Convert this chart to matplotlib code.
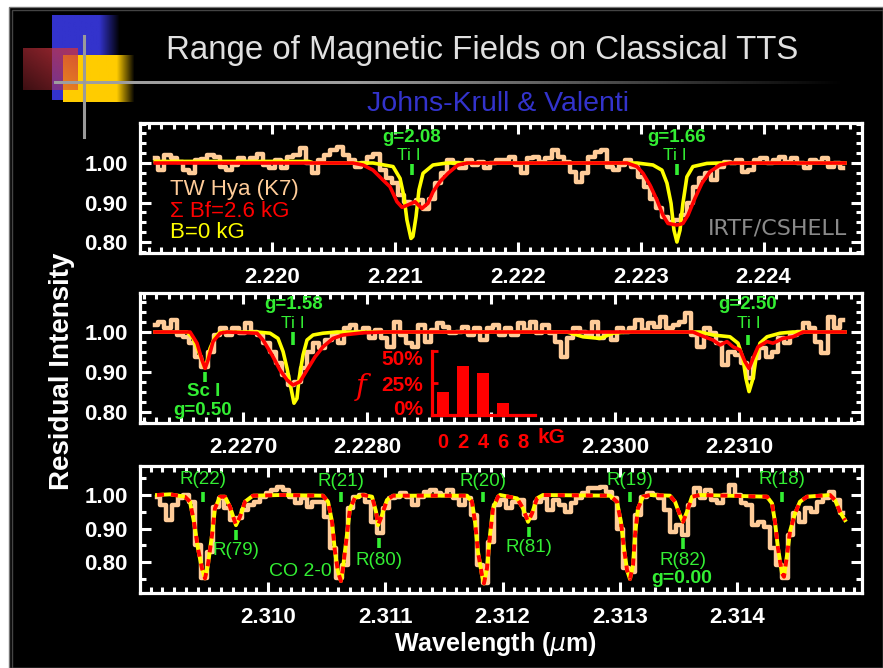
import matplotlib
matplotlib.use('Agg')
import matplotlib.pyplot as plt
import numpy as np
from matplotlib.ticker import MultipleLocator, FixedLocator, FixedFormatter
from matplotlib.patches import Rectangle

plt.rcParams['font.family'] = ['Liberation Sans', 'DejaVu Sans']

# ---------------- data ----------------
# panel 1: Ti I 2.2211 / 2.2233 um
p1_start, p1_step = 2.21905, 0.00005
p1_obs = [1.012, 0.982, 1.020, 1.012, 1.003, 0.982, 0.974, 1.008, 1.009, 1.020,
          1.016, 0.990, 0.982, 0.995, 1.012, 1.003, 1.012, 1.024, 0.995, 0.987,
          1.008, 0.987, 1.014, 1.020, 1.037, 0.999, 0.974, 1.008, 1.020, 1.033,
          1.041, 1.020, 1.008, 0.990, 0.999, 1.016, 1.024, 0.982, 0.961, 0.949,
          0.919, 0.902, 0.898, 0.906, 0.883, 0.910, 0.949, 0.974, 1.008, 0.999,
          0.987, 1.008, 0.995, 1.003, 0.987, 0.999, 1.008, 1.008, 1.016, 0.995,
          0.974, 1.012, 1.016, 1.003, 1.012, 1.033, 1.016, 1.003, 0.978, 0.953,
          0.974, 1.016, 1.029, 1.033, 0.990, 0.982, 0.995, 1.008, 0.990, 0.965,
          0.940, 0.910, 0.885, 0.864, 0.851, 0.855, 0.868, 0.898, 0.940, 0.961,
          0.974, 0.957, 0.990, 1.003, 0.999, 1.008, 0.978, 0.982, 1.008, 1.012,
          0.999, 1.008, 1.016, 1.003, 1.012, 0.999, 0.987, 1.008, 1.003, 1.012,
          0.990, 0.999, 0.987]
p1_red_w = [2.21905, 2.220659, 2.220740, 2.220822, 2.220903, 2.220960, 2.221017,
            2.221058, 2.221107, 2.221164, 2.221220, 2.221269, 2.221310, 2.221367,
            2.221432, 2.221513, 2.221587, 2.222889, 2.222970, 2.223019, 2.223076,
            2.223133, 2.223181, 2.223222, 2.223295, 2.223344, 2.223385, 2.223442,
            2.223499, 2.223564, 2.223645, 2.223727, 2.224662]
p1_red_f = [1.0, 1.0, 0.995, 0.982, 0.957, 0.940, 0.902, 0.888, 0.894, 0.902,
            0.885, 0.898, 0.927, 0.953, 0.974, 0.995, 1.0, 1.0, 0.991, 0.974,
            0.944, 0.906, 0.868, 0.847, 0.843, 0.847, 0.868, 0.911, 0.949, 0.978,
            0.995, 1.0, 1.0]
p1_yel_w = [2.21905, 2.22030, 2.22034, 2.220822, 2.220985, 2.221042, 2.221074,
            2.221098, 2.221131, 2.221147, 2.221172, 2.221196, 2.221229, 2.221310,
            2.221424, 2.222970, 2.223100, 2.223173, 2.223214, 2.223247, 2.223271,
            2.223295, 2.223320, 2.223344, 2.223376, 2.223425, 2.223539, 2.223645,
            2.224662]
p1_yel_f = [1.004, 1.004, 1.0, 1.0, 0.991, 0.961, 0.915, 0.856, 0.809, 0.814,
            0.864, 0.932, 0.974, 0.995, 1.0, 1.0, 0.995, 0.982, 0.949, 0.898,
            0.830, 0.800, 0.830, 0.898, 0.965, 0.991, 0.999, 1.0, 1.0]
p1_xticks = [2.220, 2.221, 2.222, 2.223, 2.224]
p1_lines = [('g=2.08', 'Ti I', 2.221137), ('g=1.66', 'Ti I', 2.223295)]

# panel 2: Sc I, Ti I lines + filling factor distribution
p2_start, p2_step = 2.22629, 0.00005
p2_obs = [1.0175, 1.026, 1.009, 1.030, 0.9925, 0.988, 0.972, 0.938, 0.913, 0.951,
          0.9925, 1.009, 0.9925, 1.009, 0.997, 1.022, 1.001, 0.9925, 0.972, 0.951,
          0.922, 0.8925, 0.8675, 0.876, 0.909, 0.951, 0.972, 0.959, 0.980, 0.9925,
          0.972, 1.009, 1.0175, 1.001, 1.009, 0.984, 1.005, 0.984, 0.963, 1.026,
          0.9925, 0.972, 0.963, 1.0175, 0.976, 1.005, 1.022, 1.013, 0.997, 1.001,
          1.013, 0.9925, 1.009, 0.980, 1.009, 1.0175, 0.9925, 1.009, 0.9925, 1.022,
          1.005, 1.026, 0.997, 1.0175, 0.997, 0.976, 0.938, 0.984, 1.009, 1.001,
          0.9925, 1.026, 0.984, 0.997, 0.980, 1.009, 1.001, 1.009, 1.030, 1.005,
          1.022, 1.013, 1.038, 1.009, 1.0175, 1.026, 1.047, 0.9925, 0.963, 1.009,
          0.997, 0.972, 0.9175, 0.951, 0.9425, 0.922, 0.884, 0.934, 0.959, 0.938,
          0.951, 0.984, 0.972, 0.9925, 1.001, 1.022, 1.009, 0.976, 0.9465, 1.038,
          1.009, 1.030]
p2_red_w = [2.226290, 2.226573, 2.226629, 2.226669, 2.226694, 2.226718, 2.226758,
            2.226815, 2.226871, 2.227113, 2.227161, 2.227234, 2.227298, 2.227355,
            2.227403, 2.227460, 2.227516, 2.227581, 2.227645, 2.227726, 2.227806,
            2.227968, 2.228129, 2.230629, 2.230685, 2.230790, 2.230847, 2.230903,
            2.230952, 2.231008, 2.231048, 2.231081, 2.231113, 2.231153, 2.231226,
            2.231274, 2.231355, 2.231435, 2.231516, 2.231855]
p2_red_f = [1.0, 1.0, 0.972, 0.930, 0.909, 0.930, 0.976, 0.997, 1.0, 0.997,
            0.980, 0.9425, 0.905, 0.880, 0.8675, 0.876, 0.905, 0.938, 0.963, 0.984,
            0.9925, 0.998, 1.0, 1.0, 0.9925, 0.980, 0.9675, 0.976, 0.963, 0.955,
            0.926, 0.909, 0.934, 0.963, 0.976, 0.972, 0.984, 0.988, 1.0, 1.0]
p2_yel_w = [2.226290, 2.226548, 2.226597, 2.226637, 2.226669, 2.226685, 2.226710,
            2.226734, 2.226774, 2.226815, 2.227113, 2.227218, 2.227282, 2.227323,
            2.227355, 2.227387, 2.227411, 2.227435, 2.227452, 2.227484, 2.227516,
            2.227565, 2.227645, 2.227758, 2.229613, 2.229742, 2.229879, 2.229984,
            2.230097, 2.230685, 2.230790, 2.230927, 2.230992, 2.231032, 2.231056,
            2.231081, 2.231113, 2.231137, 2.231169, 2.231226, 2.231331, 2.231435,
            2.231855]
p2_yel_f = [1.0, 1.0, 0.984, 0.955, 0.930, 0.913, 0.926, 0.959, 0.988, 1.0,
            1.0, 0.997, 0.984, 0.951, 0.909, 0.859, 0.822, 0.834, 0.884, 0.9425,
            0.980, 0.9925, 0.997, 1.0, 1.0, 0.988, 0.984, 0.997, 1.0, 1.0,
            0.9925, 0.988, 0.972, 0.934, 0.884, 0.851, 0.884, 0.934, 0.972, 0.988,
            0.997, 1.0, 1.0]
p2_xticks = [2.227, 2.228, 2.229, 2.230, 2.231]
p2_xlabels = ['2.2270', '2.2280', '', '2.2300', '2.2310']
field_kg = [0, 2, 4, 6, 8]
field_frac = [0.18, 0.38, 0.33, 0.09, 0.0]

# panel 3: CO 2-0 R branch (both models identical)
p3_start, p3_step = 2.309054, 0.00005
p3_obs = [0.995, 0.970, 0.925, 0.970, 0.990, 1.0, 0.980, 0.851, 0.751, 0.831,
          0.965, 0.990, 0.960, 0.925, 0.930, 0.955, 0.970, 0.980, 0.995, 1.005,
          1.015, 1.025, 1.015, 0.995, 0.975, 0.990, 0.965, 0.980, 0.980, 0.935,
          0.841, 0.751, 0.791, 0.960, 0.995, 1.0, 0.980, 0.920, 0.886, 0.960,
          0.990, 0.995, 1.005, 0.995, 0.970, 0.995, 1.010, 1.015, 1.005, 1.0,
          1.015, 0.990, 0.970, 0.990, 0.940, 0.791, 0.736, 0.861, 0.970, 0.985,
          0.960, 0.980, 0.985, 0.940, 0.930, 0.980, 0.990, 0.955, 0.985, 0.970,
          0.950, 0.975, 0.990, 1.005, 1.020, 1.020, 1.025, 1.010, 0.990, 0.900,
          0.781, 0.771, 0.940, 0.995, 1.005, 1.0, 0.990, 0.955, 0.890, 0.910,
          0.880, 0.970, 1.020, 0.990, 1.015, 0.985, 0.975, 1.0, 1.030, 1.0,
          0.975, 0.970, 0.910, 0.920, 0.905, 0.841, 0.791, 0.751, 0.881, 0.945,
          0.920, 0.960, 0.950, 0.980, 0.990, 1.010, 0.985, 0.945]
p3_mod_w = [2.309054, 2.309165, 2.309292, 2.309335, 2.309369, 2.309403, 2.309437,
            2.309463, 2.309488, 2.309523, 2.309548, 2.309591, 2.309633, 2.309676,
            2.309727, 2.309761, 2.309804, 2.309872, 2.310102,
            2.310469, 2.310512, 2.310546, 2.310571, 2.310597, 2.310622, 2.310639,
            2.310673, 2.310699, 2.310742, 2.310810, 2.310887, 2.310921, 2.310938,
            2.310972, 2.311014, 2.311066,
            2.311697, 2.311739, 2.311765, 2.311790, 2.311824, 2.311841, 2.311867,
            2.311893, 2.311918, 2.311961, 2.311978, 2.312123, 2.312174, 2.312217,
            2.312251, 2.312293, 2.312344,
            2.312916, 2.312975, 2.313009, 2.313035, 2.313061, 2.313086, 2.313112,
            2.313129, 2.313154, 2.313197, 2.313257, 2.313427, 2.313470, 2.313512,
            2.313538, 2.313572, 2.313615, 2.313683,
            2.314254, 2.314297, 2.314322, 2.314348, 2.314382, 2.314399, 2.314425,
            2.314450, 2.314493, 2.314535, 2.314595, 2.314791, 2.314834, 2.314876,
            2.314919]
p3_mod_f = [1.0, 1.002, 0.995, 0.980, 0.920, 0.841, 0.781, 0.751, 0.791, 0.881,
            0.960, 0.995, 0.995, 0.965, 0.910, 0.935, 0.980, 0.998, 1.0,
            0.998, 0.980, 0.920, 0.831, 0.771, 0.743, 0.781, 0.881, 0.960, 0.992,
            1.0, 0.995, 0.950, 0.910, 0.940, 0.985, 0.998,
            0.998, 0.980, 0.920, 0.831, 0.761, 0.736, 0.781, 0.881, 0.960, 0.995,
            1.0, 0.990, 0.960, 0.920, 0.945, 0.990, 1.0,
            0.998, 0.980, 0.920, 0.841, 0.776, 0.749, 0.791, 0.881, 0.960, 0.995,
            1.0, 0.998, 0.980, 0.940, 0.920, 0.950, 0.995, 1.0,
            0.995, 0.975, 0.920, 0.841, 0.766, 0.756, 0.821, 0.891, 0.945, 0.980,
            0.995, 1.0, 0.985, 0.950, 0.925]
p3_xticks = [2.310, 2.311, 2.312, 2.313, 2.314]
# CO line ids: label, wavelength, label level, marker top, marker bottom
p3_lines = [('R(22)', 2.309446, 1.045, 1.009, 0.979),
            ('R(79)', 2.309727, 0.833, 0.896, 0.866),
            ('R(21)', 2.310622, 1.040, 1.009, 0.979),
            ('R(80)', 2.310946, 0.806, 0.872, 0.842),
            ('R(20)', 2.311833, 1.040, 1.009, 0.979),
            ('R(81)', 2.312225, 0.842, 0.904, 0.875),
            ('R(19)', 2.313086, 1.042, 1.009, 0.979),
            ('R(82)', 2.313538, 0.806, 0.872, 0.838),
            ('R(18)', 2.314382, 1.045, 1.009, 0.979)]

PEACH = '#ffcc99'
GREEN = '#33ee33'
W, H = 883, 668

fig = plt.figure(figsize=(W / 100, H / 100), dpi=100, facecolor='white')

# ---------------- slide background ----------------
bg = fig.add_axes([0, 0, 1, 1])
bg.set_xlim(0, W)
bg.set_ylim(H, 0)
bg.axis('off')
bg.add_patch(Rectangle((9, 7), W - 9, H - 7, facecolor='black', edgecolor='#777777', lw=1))
bg.add_patch(Rectangle((12, 10), W - 12, H - 10, facecolor='none', edgecolor='#444444', lw=1))


def hgrad(rgb, fade_from, n=80):
    t = np.linspace(0, 1, n)
    k = np.clip((1 - t) / (1 - fade_from), 0, 1)
    img = np.ones((1, n, 3)) * np.array(rgb)[None, None, :]
    return img * k[None, :, None]


bg.imshow(hgrad((0.2, 0.2, 0.8), 0.7), extent=(52, 120, 100, 15), aspect='auto', zorder=1)
bg.imshow(hgrad((1.0, 0.8, 0.0), 0.75), extent=(63, 135, 102, 55), aspect='auto', zorder=2)
u, v = np.meshgrid(np.linspace(0, 1, 40), np.linspace(0, 1, 40))
red_sq = np.zeros((40, 40, 4))
red_sq[..., 0] = 0.8
red_sq[..., 1] = 0.2
red_sq[..., 2] = 0.25
red_sq[..., 3] = 0.3 + 0.5 * (u + (1 - v)) / 2
bg.imshow(red_sq, extent=(23, 78, 90, 48), aspect='auto', zorder=3)
gray_line = np.clip(np.linspace(1.6, 0, 200), 0, 1) * 0.62
bg.imshow(np.repeat(gray_line[None, :, None], 3, axis=2), extent=(54, 845, 84.5, 81.5),
          aspect='auto', zorder=4)
bg.plot([84, 84], [36, 137], color='#9a9a9a', lw=2.2, zorder=4)
bg.set_xlim(0, W)
bg.set_ylim(H, 0)

fig.text(482 / W, 1 - 50 / H, 'Range of Magnetic Fields on Classical TTS',
         color='#e0e0e0', fontsize=23.8, ha='center', va='center')
fig.text(498 / W, 1 - 104 / H, 'Johns-Krull & Valenti', color='#3333cc',
         fontsize=20.5, ha='center', va='center')


# ---------------- panels ----------------
def make_panel(bottom_px, top_px, xlim, ylim, xticks, xlabels, yminor):
    ax = fig.add_axes([140 / W, 1 - bottom_px / H, 722 / W, (bottom_px - top_px) / H])
    ax.set_facecolor('black')
    for s in ax.spines.values():
        s.set_color('white')
        s.set_linewidth(2.3)
    ax.set_xlim(*xlim)
    ax.set_ylim(*ylim)
    ax.xaxis.set_major_locator(FixedLocator(xticks))
    ax.xaxis.set_major_formatter(FixedFormatter(xlabels))
    ax.xaxis.set_minor_locator(MultipleLocator(0.0001))
    ax.yaxis.set_major_locator(FixedLocator([0.8, 0.9, 1.0]))
    ax.yaxis.set_major_formatter(FixedFormatter(['0.80', '0.90', '1.00']))
    ax.yaxis.set_minor_locator(MultipleLocator(yminor))
    ax.tick_params(which='both', direction='in', top=True, right=True, color='white',
                   width=2.2, labelcolor='white', labelsize=16)
    ax.tick_params(which='major', length=8)
    ax.tick_params(which='minor', length=4)
    ax.tick_params(axis='x', pad=10)
    ax.tick_params(axis='y', pad=9)
    for lab in ax.get_xticklabels() + ax.get_yticklabels():
        lab.set_fontweight('bold')
    return ax


def green_mark(ax, w, top, bot):
    ax.plot([w, w], [top, bot], color=GREEN, lw=2.6, solid_capstyle='butt', zorder=6)


def green_text(ax, w, y, s, size=14, weight='normal'):
    ax.text(w, y, s, color=GREEN, fontsize=size, fontweight=weight,
            ha='center', va='center', zorder=7)


# panel 1
ax1 = make_panel(253, 123, (2.218926, 2.224801), (0.7722, 1.1013), p1_xticks,
                 ['%.3f' % t for t in p1_xticks], 0.025)
w1 = p1_start + p1_step * np.arange(len(p1_obs))
ax1.step(w1, p1_obs, where='mid', color=PEACH, lw=3.2, zorder=2)
ax1.plot(p1_yel_w, p1_yel_f, color='yellow', lw=2.6, zorder=3)
ax1.plot(p1_red_w, p1_red_f, color='red', lw=2.6, zorder=4)
for g, sp, w in p1_lines:
    green_mark(ax1, w, 0.997, 0.970)
    green_text(ax1, w - 0.00002, 1.018, sp, 12.5)
    green_text(ax1, w, 1.065, g, 13.5, 'bold')
ax1.text(2.21917, 0.932, 'TW Hya (K7)', color=PEACH, fontsize=16, va='center')
ax1.text(2.21917, 0.876, 'Σ Bf=2.6 kG', color='red', fontsize=16, va='center')
ax1.text(2.21917, 0.823, 'B=0 kG', color='yellow', fontsize=16, va='center')
ax1.text(2.224679, 0.8354, 'IRTF/CSHELL', color='#8a8a8a', fontsize=16,
         family='DejaVu Sans', ha='right', va='center')

# panel 2
ax2 = make_panel(423, 293, (2.226169, 2.231992), (0.7725, 1.0975), p2_xticks,
                 p2_xlabels, 0.025)
w2 = p2_start + p2_step * np.arange(len(p2_obs))
ax2.step(w2, p2_obs, where='mid', color=PEACH, lw=3.2, zorder=2)
ax2.plot(p2_yel_w, p2_yel_f, color='yellow', lw=2.6, zorder=3)
ax2.plot(p2_red_w, p2_red_f, color='red', lw=2.6, zorder=4)
green_mark(ax2, 2.226694, 0.900, 0.875)
green_text(ax2, 2.226685, 0.851, 'Sc I', 13.5, 'bold')
green_text(ax2, 2.226677, 0.803, 'g=0.50', 13.5, 'bold')
green_mark(ax2, 2.227403, 1.0, 0.9675)
green_text(ax2, 2.227403, 1.022, 'Ti I', 12.5)
green_text(ax2, 2.227411, 1.068, 'g=1.58', 13.5, 'bold')
green_mark(ax2, 2.231073, 0.9925, 0.9675)
green_text(ax2, 2.231081, 1.022, 'Ti I', 12.5)
green_text(ax2, 2.231073, 1.068, 'g=2.50', 13.5, 'bold')

# inset: distribution of field strengths
ins = fig.add_axes([432 / W, 1 - 415 / H, 103 / W, 64 / H])
ins.set_facecolor('none')
ins.bar(field_kg, field_frac, width=1.2, color='red')
ins.set_xlim(-1.1, 9.2)
ins.set_ylim(0, 0.5)
for side in ('top', 'right'):
    ins.spines[side].set_visible(False)
for side in ('left', 'bottom'):
    ins.spines[side].set_color('red')
    ins.spines[side].set_linewidth(2.3)
ins.set_xticks(field_kg)
ins.set_xticklabels([str(k) for k in field_kg])
ins.set_yticks([0, 0.25, 0.5])
ins.set_yticklabels([])
ins.tick_params(axis='x', length=0, pad=13, labelcolor='red', labelsize=14.5)
ins.tick_params(axis='y', direction='in', length=4, width=2, color='red')
for lab in ins.get_xticklabels():
    lab.set_fontweight('bold')
for lv, yv in (('50%', 0.434), ('25%', 0.23), ('0%', 0.04)):
    ins.text(-2.0, yv, lv, color='red', fontsize=15, fontweight='bold',
             ha='right', va='center')
ins.annotate('kG', xy=(1, 0), xycoords='axes fraction', xytext=(1.5, -16.5),
             textcoords='offset points', color='red', fontsize=15,
             fontweight='bold', ha='left', va='center')
fig.text(361 / W, 1 - 387 / H, 'f', color='red', fontsize=21, family='DejaVu Serif',
         style='italic', ha='center', va='center')

# panel 3
ax3 = make_panel(593, 466, (2.308909, 2.315064), (0.7075, 1.0866), p3_xticks,
                 ['%.3f' % t for t in p3_xticks], 0.05)
w3 = p3_start + p3_step * np.arange(len(p3_obs))
ax3.step(w3, p3_obs, where='mid', color=PEACH, lw=3.2, zorder=2)
ax3.plot(p3_mod_w, p3_mod_f, color='yellow', lw=2.8, zorder=3)
red3, = ax3.plot(p3_mod_w, p3_mod_f, color='red', lw=2.8, zorder=4)
red3.set_dashes([1.8, 1.8])
for name, w, ly, top, bot in p3_lines:
    green_mark(ax3, w, top, bot)
    green_text(ax3, w, ly, name, 13.5)
green_text(ax3, 2.313530, 0.752, 'g=0.00', 14, 'bold')
green_text(ax3, 2.310273, 0.773, 'CO 2-0', 14)

fig.text(62 / W, 1 - 371 / H, 'Residual Intensity', rotation=90, color='white',
         fontsize=20, fontweight='bold', ha='center', va='center')
fig.text(495 / W, 1 - 644 / H, r'Wavelength ($\mu$m)', color='white', fontsize=18,
         fontweight='bold', ha='center', va='center')

fig.savefig('out.png', dpi=100, facecolor=fig.get_facecolor())
